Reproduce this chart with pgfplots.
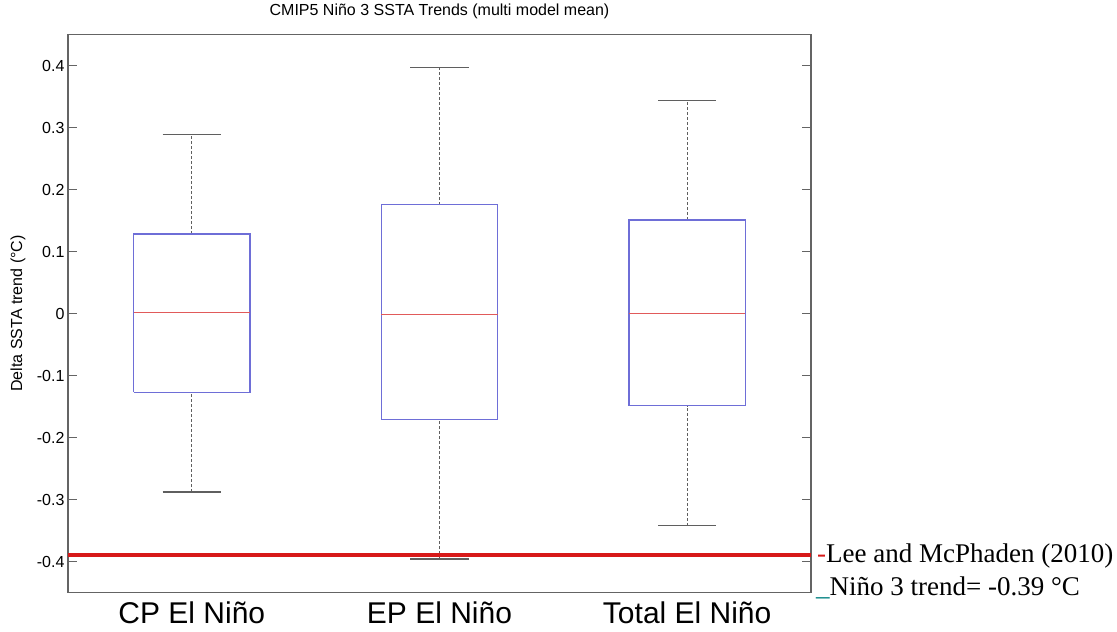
\documentclass[border=0pt]{standalone}
\usepackage{fontspec}
\setmainfont{Liberation Sans}
\newfontfamily\timesfont{Liberation Serif}
\usepackage{pgfplots}
\pgfplotsset{compat=1.18}
\definecolor{boxblue}{RGB}{110,110,215}
\definecolor{medred}{RGB}{225,90,90}
\definecolor{whisk}{RGB}{95,95,95}
\definecolor{framegray}{RGB}{100,100,100}
\definecolor{refred}{RGB}{215,25,25}
\definecolor{teal2}{RGB}{0,128,128}
\begin{document}
\begin{tikzpicture}[x=1pt,y=1pt]
\useasboundingbox (0,0) rectangle (1117,632);
\begin{axis}[
  at={(68pt,39.5pt)}, anchor=south west, scale only axis,
  width=743pt, height=558pt,
  xmin=0.5, xmax=3.5, ymin=-0.45, ymax=0.45,
  axis line style={framegray, line width=1.2pt},
  xtick={1,2,3}, xticklabels={CP El Niño, EP El Niño, Total El Niño},
  xtick style={draw=none},
  xticklabel style={font=\fontsize{30}{33}\selectfont, anchor=base, yshift=-31pt, inner sep=0pt},
  ytick={-0.4,-0.3,-0.2,-0.1,0,0.1,0.2,0.3,0.4},
  yticklabels={-0.4,-0.3,-0.2,-0.1,0,0.1,0.2,0.3,0.4},
  ytick pos=both, yticklabel pos=left,
  ytick style={framegray, line width=1.2pt},
  major tick length=9pt,
  tick align=inside,
  yticklabel style={font=\fontsize{16}{19}\selectfont},
  ylabel={Delta SSTA trend (°C)},
  ylabel style={font=\fontsize{16}{19}\selectfont, at={(axis description cs:-0.0673,0.5)}, anchor=center},
  title={CMIP5 Niño 3 SSTA Trends (multi model mean)},
  title style={font=\fontsize{16}{19}\selectfont, at={(axis description cs:0.5,1)}, anchor=base, yshift=12.7pt},
  clip=false,
  boxst/.style={boxblue, line width=1.3pt, mark=none},
  medst/.style={medred, line width=1pt, mark=none},
  stemst/.style={whisk, line width=1.2pt, dash pattern=on 3pt off 2pt, mark=none},
  capst/.style={whisk, line width=1.3pt, mark=none},
]
% ---- CP El Nino (x=1): whiskers -0.288 / 0.289, quartiles -0.127 / 0.128, median 0.002
\addplot[stemst] coordinates {(1,0.128) (1,0.289)};
\addplot[stemst] coordinates {(1,-0.288) (1,-0.127)};
\addplot[capst] coordinates {(0.8825,0.289) (1.1175,0.289)};
\addplot[capst] coordinates {(0.8825,-0.288) (1.1175,-0.288)};
\addplot[boxst] coordinates {(0.765,-0.127) (1.235,-0.127) (1.235,0.128) (0.765,0.128) (0.765,-0.127)};
\addplot[medst] coordinates {(0.765,0.002) (1.235,0.002)};
% ---- EP El Nino (x=2): whiskers -0.396 / 0.397, quartiles -0.1715 / 0.1755, median -0.002
\addplot[stemst] coordinates {(2,0.1755) (2,0.397)};
\addplot[stemst] coordinates {(2,-0.396) (2,-0.1715)};
\addplot[capst] coordinates {(1.8825,0.397) (2.1175,0.397)};
\addplot[capst] coordinates {(1.8825,-0.396) (2.1175,-0.396)};
\addplot[boxst] coordinates {(1.765,-0.1715) (2.235,-0.1715) (2.235,0.1755) (1.765,0.1755) (1.765,-0.1715)};
\addplot[medst] coordinates {(1.765,-0.002) (2.235,-0.002)};
% ---- Total El Nino (x=3): whiskers -0.3424 / 0.3436, quartiles -0.1485 / 0.151, median 0
\addplot[stemst] coordinates {(3,0.151) (3,0.3436)};
\addplot[stemst] coordinates {(3,-0.3424) (3,-0.1485)};
\addplot[capst] coordinates {(2.8825,0.3436) (3.1175,0.3436)};
\addplot[capst] coordinates {(2.8825,-0.3424) (3.1175,-0.3424)};
\addplot[boxst] coordinates {(2.765,-0.1485) (3.235,-0.1485) (3.235,0.151) (2.765,0.151) (2.765,-0.1485)};
\addplot[medst] coordinates {(2.765,0.0) (3.235,0.0)};
% ---- Lee and McPhaden (2010) Nino 3 trend
\addplot[refred, line width=4pt, mark=none] coordinates {(0.5,-0.39) (3.5,-0.39)};
\node[anchor=base west, inner sep=0pt, xshift=6pt, yshift=-7pt, font=\timesfont\fontsize{27}{30}\selectfont]
  at (axis cs:3.5,-0.39) {\textcolor{refred}{-}Lee and McPhaden (2010)};
\node[anchor=base west, inner sep=0pt, xshift=5pt, yshift=-40pt, font=\timesfont\fontsize{27}{30}\selectfont]
  at (axis cs:3.5,-0.39) {\textcolor{teal2}{\_}Niño 3 trend= -0.39 °C};
\end{axis}
\end{tikzpicture}
\end{document}
